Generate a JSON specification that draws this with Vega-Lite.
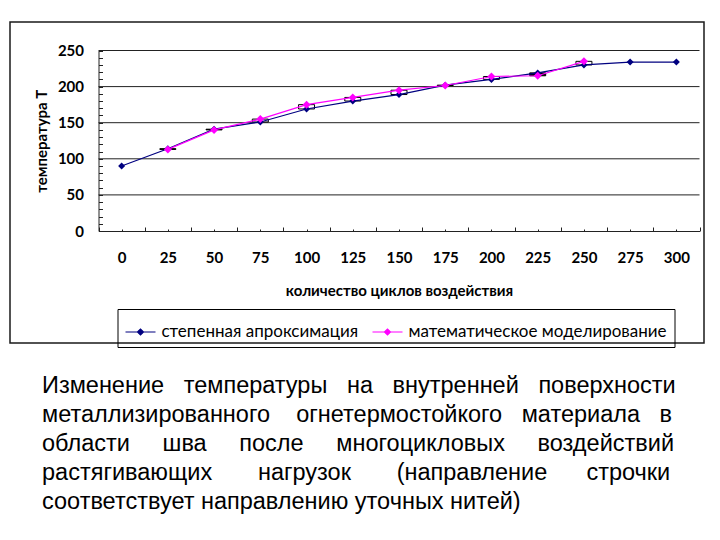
{
  "$schema": "https://vega.github.io/schema/vega-lite/v6.json",
  "width": 694,
  "height": 321,
  "autosize": "none",
  "padding": {"left": 10, "top": 22, "right": 16, "bottom": 197},
  "background": "white",
  "config": {
    "view": {"stroke": "#1a1a1a", "strokeWidth": 1.5},
    "font": "Lato",
    "axisX": {
      "orient": "bottom",
      "offset": -112,
      "grid": false,
      "domainColor": "#222",
      "tickColor": "#222",
      "labelPadding": 21,
      "labelFont": "Lato",
      "labelFontWeight": "bold",
      "labelFontSize": 15,
      "labelColor": "black",
      "labelOverlap": false,
      "labelFlush": false,
      "titleFont": "Lato",
      "titleFontWeight": "bold",
      "titleFontSize": 15,
      "titleColor": "black",
      "titlePadding": 18
    },
    "axisY": {
      "orient": "left",
      "offset": -88.5,
      "grid": false,
      "domainColor": "#222",
      "tickColor": "#222",
      "tickSize": -4,
      "labelPadding": 19,
      "labelFont": "Lato",
      "labelFontWeight": "bold",
      "labelFontSize": 15,
      "labelColor": "black",
      "labelOverlap": false,
      "titleFont": "Lato",
      "titleFontWeight": "bold",
      "titleFontSize": 15,
      "titleColor": "black",
      "titlePadding": 8
    }
  },
  "title": {
    "text": [
      "Изменение \u00a0\u00a0температуры \u00a0\u00a0на \u00a0\u00a0внутренней \u00a0\u00a0поверхности",
      "металлизированного \u00a0\u00a0\u00a0огнетермостойкого \u00a0\u00a0материала \u00a0\u00a0в",
      "области \u00a0\u00a0\u00a0\u00a0шва \u00a0\u00a0\u00a0\u00a0после \u00a0\u00a0\u00a0\u00a0многоцикловых \u00a0\u00a0\u00a0\u00a0воздействий",
      "растягивающих \u00a0\u00a0\u00a0\u00a0\u00a0\u00a0нагрузок \u00a0\u00a0\u00a0\u00a0\u00a0\u00a0(направление \u00a0\u00a0\u00a0\u00a0\u00a0строчки",
      "соответствует направлению уточных нитей)"
    ],
    "orient": "bottom",
    "anchor": "start",
    "frame": "bounds",
    "font": "Liberation Sans",
    "fontSize": 23.5,
    "fontWeight": "normal",
    "lineHeight": 29,
    "color": "black",
    "offset": 26,
    "dx": 32
  },
  "datasets": {
    "series": [
      {"cycles": 0, "power": 90, "model": null},
      {"cycles": 25, "power": 114, "model": 113},
      {"cycles": 50, "power": 141, "model": 140},
      {"cycles": 75, "power": 151, "model": 155},
      {"cycles": 100, "power": 169, "model": 175},
      {"cycles": 125, "power": 180, "model": 185},
      {"cycles": 150, "power": 189, "model": 195},
      {"cycles": 175, "power": 202, "model": 201.5},
      {"cycles": 200, "power": 210, "model": 214},
      {"cycles": 225, "power": 219, "model": 215},
      {"cycles": 250, "power": 230, "model": 235},
      {"cycles": 275, "power": 234, "model": null},
      {"cycles": 300, "power": 234, "model": null}
    ],
    "gridlines": [
      {"level": 50}, {"level": 100}, {"level": 150}, {"level": 200}, {"level": 250}
    ]
  },
  "layer": [
    {
      "data": {"name": "gridlines"},
      "mark": {"type": "rule", "color": "#222", "strokeWidth": 1},
      "encoding": {
        "x": {
          "datum": -12.5, "type": "quantitative",
          "scale": {"domain": [-12.5, 312.5], "range": [88.5, 689.5], "nice": false, "zero": false, "padding": 0},
          "axis": {
            "values": [-12.5, 0, 12.5, 25, 37.5, 50, 62.5, 75, 87.5, 100, 112.5, 125, 137.5, 150, 162.5, 175, 187.5, 200, 212.5, 225, 237.5, 250, 262.5, 275, 287.5, 300, 312.5],
            "labelExpr": "(datum.value >= 0 && datum.value % 25 === 0) ? datum.label : ''",
            "tickSize": {"condition": {"test": "datum.value % 25 === 0", "value": -2}, "value": -4},
            "title": "количество циклов воздействия"
          }
        },
        "x2": {"datum": 312.5},
        "y": {
          "field": "level", "type": "quantitative",
          "scale": {"domain": [0, 250], "range": [209, 28.5], "nice": false},
          "axis": {
            "values": [0, 10, 20, 30, 40, 50, 60, 70, 80, 90, 100, 110, 120, 130, 140, 150, 160, 170, 180, 190, 200, 210, 220, 230, 240, 250],
            "labelExpr": "datum.value % 50 === 0 ? datum.label : ''",
            "title": "температура Т"
          }
        }
      }
    },
    {
      "data": {"name": "series"},
      "transform": [{"filter": "datum.model != null"}],
      "mark": {"type": "bar", "width": 16, "stroke": "black", "strokeWidth": 1},
      "encoding": {
        "x": {
          "field": "cycles", "type": "quantitative",
          "scale": {"domain": [-12.5, 312.5], "range": [88.5, 689.5], "nice": false, "zero": false, "padding": 0},
          "axis": {
            "values": [-12.5, 0, 12.5, 25, 37.5, 50, 62.5, 75, 87.5, 100, 112.5, 125, 137.5, 150, 162.5, 175, 187.5, 200, 212.5, 225, 237.5, 250, 262.5, 275, 287.5, 300, 312.5],
            "labelExpr": "(datum.value >= 0 && datum.value % 25 === 0) ? datum.label : ''",
            "tickSize": {"condition": {"test": "datum.value % 25 === 0", "value": -2}, "value": -4},
            "title": "количество циклов воздействия"
          }
        },
        "y": {
          "field": "power", "type": "quantitative",
          "scale": {"domain": [0, 250], "range": [209, 28.5], "nice": false},
          "axis": {
            "values": [0, 10, 20, 30, 40, 50, 60, 70, 80, 90, 100, 110, 120, 130, 140, 150, 160, 170, 180, 190, 200, 210, 220, 230, 240, 250],
            "labelExpr": "datum.value % 50 === 0 ? datum.label : ''",
            "title": "температура Т"
          }
        },
        "y2": {"field": "model"},
        "fill": {"condition": {"test": "datum.model > datum.power", "value": "white"}, "value": "black"}
      }
    },
    {
      "data": {"name": "series"},
      "transform": [
        {"fold": ["power", "model"], "as": ["series", "T"]},
        {"filter": "datum.T != null"}
      ],
      "layer": [
        {
          "mark": {"type": "line", "strokeWidth": 1.2},
          "encoding": {
            "x": {
              "field": "cycles", "type": "quantitative",
              "scale": {"domain": [-12.5, 312.5], "range": [88.5, 689.5], "nice": false, "zero": false, "padding": 0},
              "axis": {
                "values": [-12.5, 0, 12.5, 25, 37.5, 50, 62.5, 75, 87.5, 100, 112.5, 125, 137.5, 150, 162.5, 175, 187.5, 200, 212.5, 225, 237.5, 250, 262.5, 275, 287.5, 300, 312.5],
                "labelExpr": "(datum.value >= 0 && datum.value % 25 === 0) ? datum.label : ''",
                "tickSize": {"condition": {"test": "datum.value % 25 === 0", "value": -2}, "value": -4},
                "title": "количество циклов воздействия"
              }
            },
            "y": {
              "field": "T", "type": "quantitative",
              "scale": {"domain": [0, 250], "range": [209, 28.5], "nice": false},
              "axis": {
                "values": [0, 10, 20, 30, 40, 50, 60, 70, 80, 90, 100, 110, 120, 130, 140, 150, 160, 170, 180, 190, 200, 210, 220, 230, 240, 250],
                "labelExpr": "datum.value % 50 === 0 ? datum.label : ''",
                "title": "температура Т"
              }
            },
            "color": {
              "field": "series", "type": "nominal",
              "scale": {"domain": ["power", "model"], "range": ["#000080", "#FF00FF"]},
              "legend": {
                "orient": "none",
                "legendX": 107.5,
                "legendY": 287,
                "direction": "horizontal",
                "title": null,
                "strokeColor": "black",
                "padding": 7,
                "symbolType": "M-1,0L1,0M-0.2,0L0,-0.2L0.2,0L0,0.2Z",
                "symbolSize": 900,
                "symbolStrokeWidth": 1.2,
                "labelFont": "Lato",
                "labelFontSize": 17,
                "labelColor": "black",
                "labelLimit": 0,
                "labelOffset": 5,
                "columnPadding": 11,
                "labelExpr": "datum.value == 'power' ? 'степенная апроксимация' : 'математическое моделирование'"
              }
            }
          }
        },
        {
          "mark": {"type": "point", "shape": "diamond", "filled": true, "opacity": 1},
          "encoding": {
            "x": {
              "field": "cycles", "type": "quantitative",
              "scale": {"domain": [-12.5, 312.5], "range": [88.5, 689.5], "nice": false, "zero": false, "padding": 0},
              "axis": {
                "values": [-12.5, 0, 12.5, 25, 37.5, 50, 62.5, 75, 87.5, 100, 112.5, 125, 137.5, 150, 162.5, 175, 187.5, 200, 212.5, 225, 237.5, 250, 262.5, 275, 287.5, 300, 312.5],
                "labelExpr": "(datum.value >= 0 && datum.value % 25 === 0) ? datum.label : ''",
                "tickSize": {"condition": {"test": "datum.value % 25 === 0", "value": -2}, "value": -4},
                "title": "количество циклов воздействия"
              }
            },
            "y": {
              "field": "T", "type": "quantitative",
              "scale": {"domain": [0, 250], "range": [209, 28.5], "nice": false},
              "axis": {
                "values": [0, 10, 20, 30, 40, 50, 60, 70, 80, 90, 100, 110, 120, 130, 140, 150, 160, 170, 180, 190, 200, 210, 220, 230, 240, 250],
                "labelExpr": "datum.value % 50 === 0 ? datum.label : ''",
                "title": "температура Т"
              }
            },
            "color": {"field": "series", "type": "nominal", "scale": {"domain": ["power", "model"], "range": ["#000080", "#FF00FF"]}},
            "size": {"condition": {"test": "datum.series == 'model'", "value": 64}, "value": 49}
          }
        }
      ]
    }
  ]
}
